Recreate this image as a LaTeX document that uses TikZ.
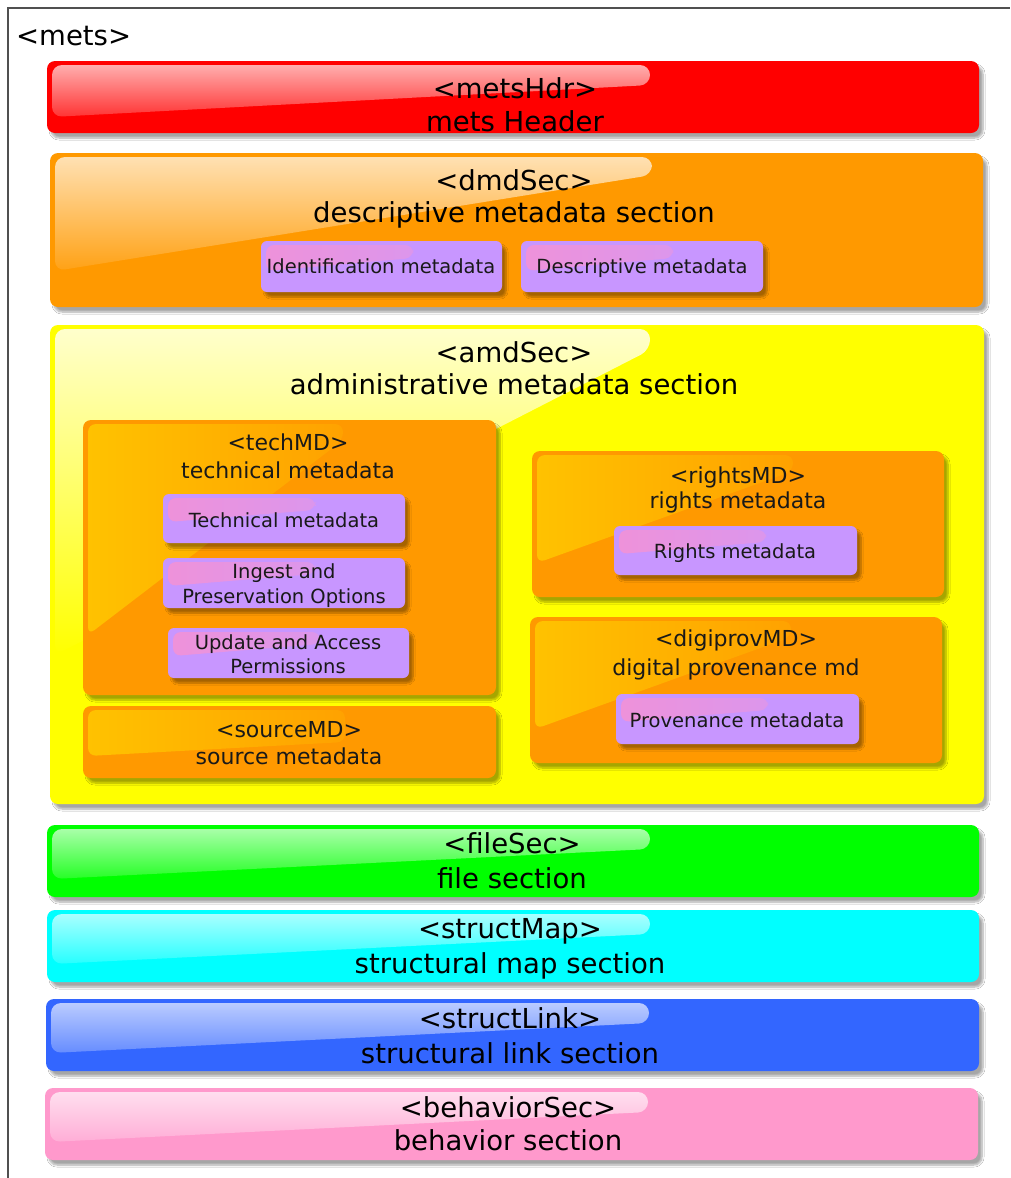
\documentclass[tikz,border=0pt]{standalone}
\usepackage{fontspec}
\setmainfont{DejaVu Sans}
\usetikzlibrary{calc,shadows.blur}

\definecolor{hdrred}{HTML}{FF0000}
\definecolor{secorange}{HTML}{FF9900}
\definecolor{amdyellow}{HTML}{FFFF00}
\definecolor{filegreen}{HTML}{00FF00}
\definecolor{mapcyan}{HTML}{00FFFF}
\definecolor{linkblue}{HTML}{3366FF}
\definecolor{behavpink}{HTML}{FF99CC}
\definecolor{leafpurple}{HTML}{C896FF}
\definecolor{subglow}{HTML}{FFC200}
\definecolor{subglowend}{HTML}{FFA200}
\definecolor{leafglow}{HTML}{EE92DA}
\definecolor{leafglowend}{HTML}{DC96EC}
\definecolor{framegray}{HTML}{505050}

\tikzset{
  panel/.style={rectangle, rounded corners=#1, inner sep=0pt, outer sep=0pt, draw=none,
    blur shadow={shadow xshift=4pt, shadow yshift=-5pt, shadow opacity=35,
                 shadow blur radius=2pt, shadow blur steps=8}},
  panel/.default=8pt,
  % glossy highlight in the upper left part of a panel, shaded top to bottom:
  % #1 top colour, #2 bottom colour, #3 width, #4 depth at the left, #5 depth at the right
  vshine/.style n args={5}{path picture={
    \coordinate (pp) at (path picture bounding box.north west);
    \path[top color=#1, bottom color=#2, draw=none, rounded corners=10pt]
      ($(pp)+(5,4)$) -- ($(pp)+(#3,4)$) -- ($(pp)+(#3,#5)$) -- ($(pp)+(5,#4)$) -- cycle;
  }},
  % the same, shaded left to right
  hshine/.style n args={5}{path picture={
    \coordinate (pp) at (path picture bounding box.north west);
    \path[left color=#1, right color=#2, draw=none, rounded corners=8pt]
      ($(pp)+(5,4)$) -- ($(pp)+(#3,4)$) -- ($(pp)+(#3,#5)$) -- ($(pp)+(5,#4)$) -- cycle;
  }},
  bigtext/.style={font=\fontsize{27.5}{33}\selectfont, inner sep=0pt, anchor=base, text=black},
  midtext/.style={font=\fontsize{22}{28}\selectfont, inner sep=0pt, anchor=base, text=black!90},
  smalltext/.style={font=\fontsize{19.5}{24}\selectfont, inner sep=0pt, anchor=base, text=black!90},
  frame/.style={draw=framegray, line width=1.4pt},
}

\begin{document}
\begin{tikzpicture}[x=1pt,y=-1pt]
\useasboundingbox[fill=white] (0,0) rectangle (1010,1178);

% outer <mets> frame
\coordinate (fbl) at (8,1178);
\coordinate (ftl) at (8,8);
\coordinate (ftr) at (1010,8);
\draw[frame] (fbl) -- (ftl) -- (ftr);
\node[bigtext, anchor=base west] (metsT) at (16,45) {<mets>};

% top level sections
\node[panel, fill=hdrred, minimum width=932pt, minimum height=72pt,
      vshine={white!68!hdrred}{white!20!hdrred}{603}{56}{24}] (hdr) at (513,97) {};
\node[panel, fill=secorange, minimum width=933pt, minimum height=154pt,
      vshine={white!70!secorange}{white!8!secorange}{602}{118}{22}] (dmd) at (516.5,230) {};
\node[panel, fill=amdyellow, minimum width=934pt, minimum height=479pt,
      vshine={white!80!amdyellow}{amdyellow}{600}{330}{25}] (amd) at (517,564.5) {};
\node[panel, fill=filegreen, minimum width=932pt, minimum height=72pt,
      vshine={white!66!filegreen}{white!15!filegreen}{603}{54}{24}] (file) at (513,861) {};
\node[panel, fill=mapcyan, minimum width=932pt, minimum height=72pt,
      vshine={white!66!mapcyan}{white!15!mapcyan}{603}{54}{24}] (smap) at (513,946) {};
\node[panel, fill=linkblue, minimum width=933pt, minimum height=72pt,
      vshine={white!66!linkblue}{white!25!linkblue}{603}{54}{24}] (slink) at (512.5,1035) {};
\node[panel, fill=behavpink, minimum width=933pt, minimum height=72pt,
      vshine={white!68!behavpink}{white!20!behavpink}{603}{54}{24}] (behav) at (511.5,1124) {};

% descriptive metadata leaves
\node[panel=6pt, fill=leafpurple, minimum width=241pt, minimum height=51pt,
      hshine={leafglow}{leafglowend}{152}{30}{17}] (idmd) at (381.5,266.5) {};
\node[panel=6pt, fill=leafpurple, minimum width=242pt, minimum height=51pt,
      hshine={leafglow}{leafglowend}{152}{30}{17}] (descmd) at (642,266.5) {};

% administrative metadata subsections
\node[panel, fill=secorange, minimum width=413pt, minimum height=275pt,
      hshine={subglow}{subglowend}{260}{215}{20}] (tech) at (289.5,557.5) {};
\node[panel, fill=secorange, minimum width=413pt, minimum height=72pt,
      hshine={subglow}{subglowend}{262}{50}{36}] (source) at (289.5,742) {};
\node[panel, fill=secorange, minimum width=412pt, minimum height=146pt,
      hshine={subglow}{subglowend}{261}{112}{20}] (rights) at (738,524) {};
\node[panel, fill=secorange, minimum width=412pt, minimum height=146pt,
      hshine={subglow}{subglowend}{261}{112}{20}] (digiprov) at (736,690) {};

% administrative metadata leaves
\node[panel=6pt, fill=leafpurple, minimum width=242pt, minimum height=49pt,
      hshine={leafglow}{leafglowend}{152}{28}{16}] (techmd) at (284,518.5) {};
\node[panel=6pt, fill=leafpurple, minimum width=242pt, minimum height=50pt,
      hshine={leafglow}{leafglowend}{152}{28}{16}] (ingest) at (284,583) {};
\node[panel=6pt, fill=leafpurple, minimum width=241pt, minimum height=50pt,
      hshine={leafglow}{leafglowend}{152}{28}{16}] (update) at (288.5,653) {};
\node[panel=6pt, fill=leafpurple, minimum width=243pt, minimum height=49pt,
      hshine={leafglow}{leafglowend}{152}{28}{16}] (rightsmd) at (735.5,550.5) {};
\node[panel=6pt, fill=leafpurple, minimum width=243pt, minimum height=50pt,
      hshine={leafglow}{leafglowend}{152}{28}{16}] (provmd) at (737.5,719) {};

% section titles
\node[bigtext] (hdrA) at (515,98) {<metsHdr>};
\node[bigtext] (hdrB) at (515,131) {mets Header};
\node[bigtext] (dmdA) at (514,190) {<dmdSec>};
\node[bigtext] (dmdB) at (514,222) {descriptive metadata section};
\node[bigtext] (amdA) at (514,362) {<amdSec>};
\node[bigtext] (amdB) at (514,394) {administrative metadata section};
\node[bigtext] (fileA) at (512,853) {<fileSec>};
\node[bigtext] (fileB) at (512,888) {file section};
\node[bigtext] (smapA) at (510,938) {<structMap>};
\node[bigtext] (smapB) at (510,973) {structural map section};
\node[bigtext] (slinkA) at (510,1028) {<structLink>};
\node[bigtext] (slinkB) at (510,1063) {structural link section};
\node[bigtext] (behavA) at (508,1117) {<behaviorSec>};
\node[bigtext] (behavB) at (508,1150) {behavior section};

% subsection titles
\node[midtext] (techA) at (288,450) {<techMD>};
\node[midtext] (techB) at (288,478) {technical metadata};
\node[midtext] (sourceA) at (289,737) {<sourceMD>};
\node[midtext] (sourceB) at (289,764) {source metadata};
\node[midtext] (rightsA) at (738,483) {<rightsMD>};
\node[midtext] (rightsB) at (738,508) {rights metadata};
\node[midtext] (digiA) at (736,646) {<digiprovMD>};
\node[midtext] (digiB) at (736,675) {digital provenance md};

% leaf labels
\node[smalltext] (idmdT) at (381,273) {Identification metadata};
\node[smalltext] (descmdT) at (642,273) {Descriptive metadata};
\node[smalltext] (techmdT) at (284,527) {Technical metadata};
\node[smalltext] (ingestA) at (284,578) {Ingest and};
\node[smalltext] (ingestB) at (284,603) {Preservation Options};
\node[smalltext] (updateA) at (288,649) {Update and Access};
\node[smalltext] (updateB) at (288,673) {Permissions};
\node[smalltext] (rightsmdT) at (735,558) {Rights metadata};
\node[smalltext] (provmdT) at (737,727) {Provenance metadata};
\end{tikzpicture}
\end{document}
